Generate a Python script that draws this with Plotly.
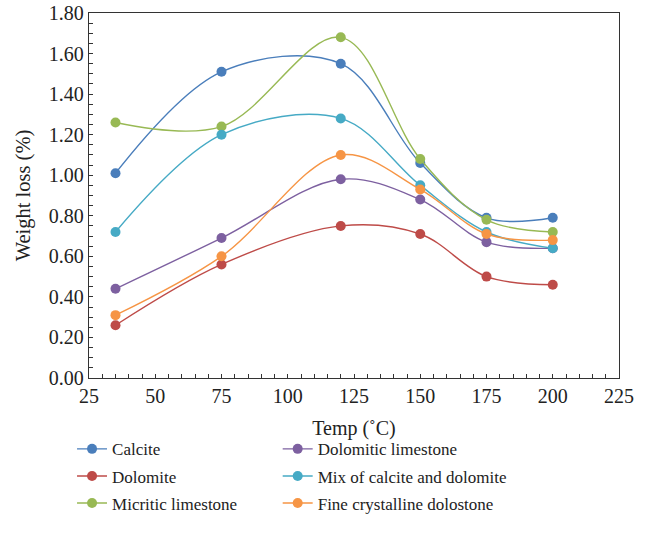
import plotly.graph_objects as go

temps = [35, 75, 120, 150, 175, 200]
calcite = [1.01, 1.51, 1.55, 1.06, 0.79, 0.79]
dolomite = [0.26, 0.56, 0.75, 0.71, 0.50, 0.46]
micritic = [1.26, 1.24, 1.68, 1.08, 0.78, 0.72]
dolomitic = [0.44, 0.69, 0.98, 0.88, 0.67, 0.64]
mix = [0.72, 1.20, 1.28, 0.95, 0.72, 0.64]
fine = [0.31, 0.60, 1.10, 0.93, 0.71, 0.68]

series = [
    ("Calcite", calcite, "#4a7ebb", "legend"),
    ("Dolomite", dolomite, "#be4b48", "legend"),
    ("Micritic limestone", micritic, "#98b954", "legend"),
    ("Dolomitic limestone", dolomitic, "#7d60a0", "legend2"),
    ("Mix of calcite and dolomite", mix, "#46aac5", "legend2"),
    ("Fine crystalline dolostone", fine, "#f69545", "legend2"),
]

FONT = "Liberation Serif"
fig = go.Figure()
for name, vals, col, lg in series:
    fig.add_trace(go.Scatter(
        x=temps, y=vals, name=name, mode="lines+markers",
        line=dict(color=col, width=1.4, shape="spline", smoothing=1.0),
        marker=dict(color=col, size=10),
        legend=lg, legendgroup=name,
    ))

axis_common = dict(
    showline=True, linecolor="#333333", linewidth=1.3, mirror=True,
    ticks="inside", ticklen=4, tickcolor="#333333", tickwidth=1,
    showgrid=False, zeroline=False, automargin=False,
    ticklabeloverflow="allow",
    tickfont=dict(family=FONT, size=20, color="#222222"),
    minor=dict(ticks="inside", ticklen=4, tickcolor="#333333", tickwidth=1, showgrid=False),
)

fig.update_xaxes(range=[25, 225], dtick=25, tick0=25, **axis_common,
                 title=dict(text="Temp (˚C)", font=dict(family=FONT, size=20, color="#222222"), standoff=14))
fig.update_yaxes(range=[0, 1.8], dtick=0.2, tickformat=".2f", **axis_common,
                 title=dict(text="Weight loss (%)", font=dict(family=FONT, size=20.5, color="#222222"), standoff=12))

legend_common = dict(
    font=dict(family=FONT, size=17, color="#222222"),
    bgcolor="rgba(0,0,0,0)", yanchor="top", xanchor="left",
    tracegroupgap=2, orientation="v",
)
fig.update_layout(
    width=647, height=542,
    margin=dict(l=89, r=28, t=13, b=164, autoexpand=False),
    plot_bgcolor="white", paper_bgcolor="white",
    showlegend=True,
    legend=dict(x=-0.032, y=-0.146, **legend_common),
    legend2=dict(x=0.356, y=-0.146, **legend_common),
)

fig.write_html("out.html", config={"displayModeBar": False},
               post_script="document.body.style.margin='0';document.body.style.overflow='hidden';")
